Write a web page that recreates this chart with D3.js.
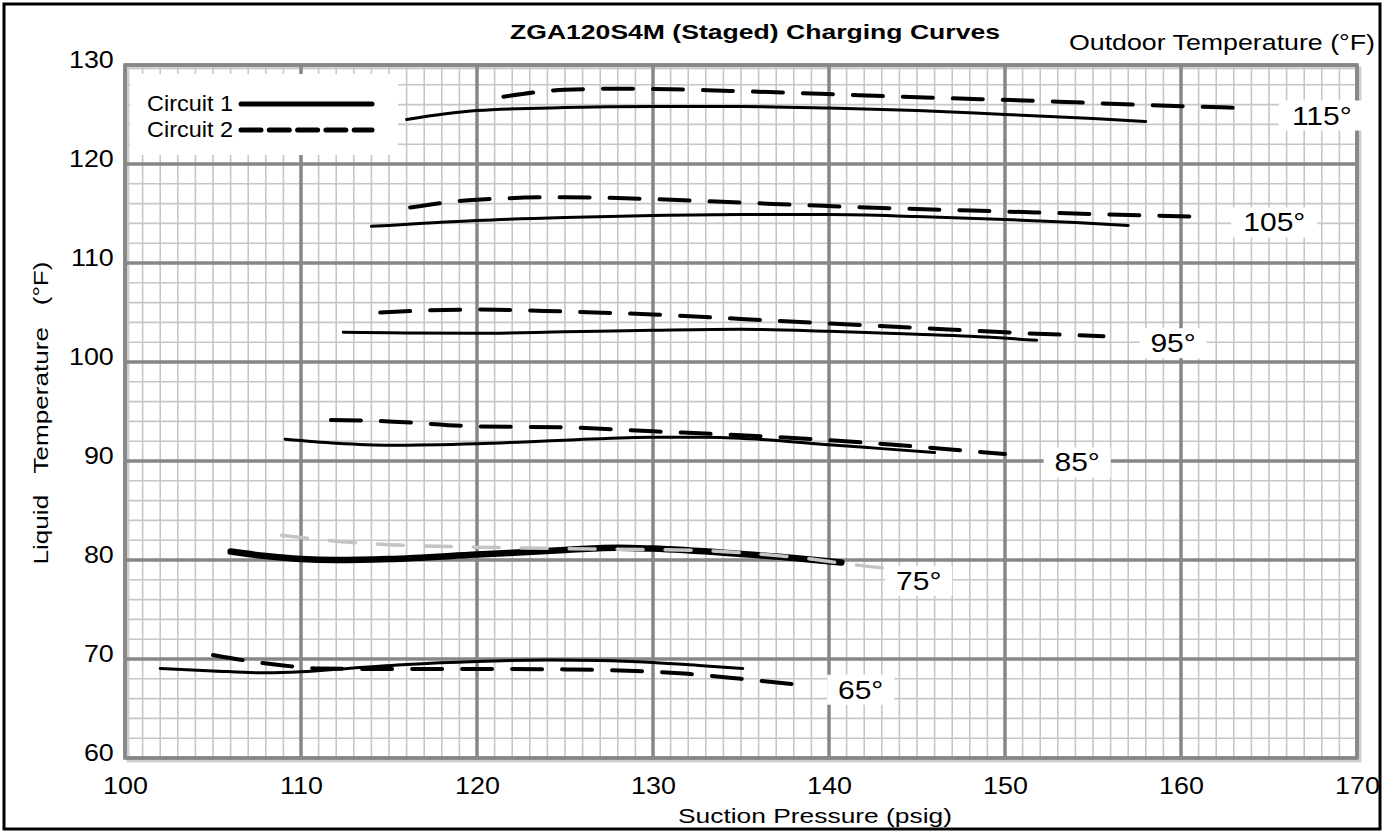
<!DOCTYPE html>
<html>
<head>
<meta charset="utf-8">
<script src="https://cdn.jsdelivr.net/npm/d3@7"></script>
<style>
  body { margin: 0; background: #fff; }
  text { font-family: "Liberation Sans", Arial, sans-serif; }
</style>
</head>
<body>
<div id="chart"></div>
<script>
// Dados das curvas (pressao de succao psig, temperatura do liquido F)
var outdoorTemps = ["115°", "105°", "95°", "85°", "75°", "65°"];

var c1_115 = [[116,124.5],[120,125.4],[125,125.7],[130,125.8],[135,125.8],[140,125.65],[145,125.4],[150,125.0],[155,124.6],[158,124.3]];
var c2_115 = [[121.5,126.8],[125,127.5],[128,127.6],[131,127.55],[134,127.4],[139.5,127.1],[144,126.8],[148.6,126.55],[153,126.3],[157.3,126.0],[163.7,125.65]];

var c1_105 = [[114,113.7],[120,114.3],[125,114.6],[130,114.8],[135,114.9],[140,114.9],[145,114.7],[150,114.4],[154,114.1],[157,113.8]];
var c2_105 = [[116.2,115.6],[120,116.4],[125,116.65],[130,116.45],[135,116.1],[140,115.75],[145,115.45],[150,115.2],[155,114.95],[160.5,114.7]];

var c1_95 = [[112.4,103.0],[115,102.95],[120,102.9],[125,103.05],[130,103.2],[135,103.3],[140,103.1],[145,102.8],[148,102.6],[151.8,102.2]];
var c2_95 = [[114.5,105.0],[117,105.2],[120,105.3],[125,105.1],[130,104.8],[135,104.35],[140,103.9],[145,103.45],[150,103.0],[155.6,102.6]];

var c1_85 = [[109.1,92.2],[112,91.8],[115,91.6],[120,91.75],[125,92.1],[130,92.4],[133,92.4],[136,92.2],[140,91.65],[143,91.25],[146,90.85]];
var c2_85 = [[111.7,94.15],[115,94.0],[120,93.5],[125,93.4],[130,93.0],[135,92.6],[140,92.1],[145,91.45],[150,90.7]];

var c1_75 = [[106,80.85],[108,80.4],[110,80.1],[112,80.0],[115,80.1],[120,80.55],[125,81.0],[128,81.25],[130,81.15],[135,80.6],[138,80.2],[140.7,79.75]];
var c2_75 = [[108.9,82.5],[112,81.9],[115,81.55],[120,81.3],[125,81.15],[130,81.05],[133,80.95],[136,80.6],[139,80.1],[141,79.6],[143.7,79.1]];

var c1_65 = [[102,69.05],[105,68.8],[108,68.6],[110,68.7],[113,69.1],[116,69.45],[120,69.75],[124,69.9],[127,69.85],[130,69.65],[133,69.3],[135.1,69.05]];
var c2_65 = [[105,70.4],[107,69.8],[109,69.35],[111,69.05],[114,69.0],[120,69.0],[125,68.95],[129,68.8],[132,68.5],[135,68.0],[138.5,67.35]];

// posicao dos rotulos de temperatura externa
var labelX = [168.0, 165.3, 159.55, 154.1, 145.1, 141.8];
var labelY = [124.9, 114.1, 101.9, 89.85, 77.9, 66.9];

var xTicks = [100, 110, 120, 130, 140, 150, 160, 170];
var yTicks = [60, 70, 80, 90, 100, 110, 120, 130];
var legendLabels = ["Circuit 1", "Circuit 2"];

// Definindo SVG
var svgWidth = 1393, svgHeight = 832;
var margin = { top: 65, right: 36, bottom: 74, left: 125 };
var width = 1357 - margin.left;
var height = 758 - margin.top;
var sx = 1.18; // texto do original esticado na horizontal

var svg = d3.select("#chart").append("svg")
    .attr("width", svgWidth)
    .attr("height", svgHeight);

function stretch(sel, len) {
    sel.attr("textLength", len).attr("lengthAdjust", "spacingAndGlyphs");
}

// moldura externa
svg.append("rect")
    .attr("x", 4).attr("y", 4)
    .attr("width", 1376).attr("height", 825)
    .attr("fill", "white")
    .attr("stroke", "black")
    .attr("stroke-width", 3);

var g = svg.append("g")
    .attr("transform", "translate(" + margin.left + "," + margin.top + ")");

var x = d3.scaleLinear().domain([100, 170]).range([0, width]);
var y = d3.scaleLinear().domain([60, 130]).range([height, 0]);

// sombra da area do grafico
g.append("rect")
    .attr("x", 3).attr("y", 3)
    .attr("width", width).attr("height", height)
    .attr("fill", "none")
    .attr("stroke", "#d0d0d0")
    .attr("stroke-width", 3);

// Grade menor
g.append("g").selectAll("line")
    .data(d3.range(101, 170, 1).filter(d => d % 10 != 0))
    .enter().append("line")
    .attr("x1", d => x(d)).attr("x2", d => x(d))
    .attr("y1", 0).attr("y2", height)
    .attr("stroke", "#c6c6c6").attr("stroke-width", 1.6);

g.append("g").selectAll("line")
    .data(d3.range(62, 130, 2).filter(d => d % 10 != 0))
    .enter().append("line")
    .attr("x1", 0).attr("x2", width)
    .attr("y1", d => y(d)).attr("y2", d => y(d))
    .attr("stroke", "#c6c6c6").attr("stroke-width", 1.6);

// Grade maior
g.append("g").selectAll("line")
    .data(xTicks)
    .enter().append("line")
    .attr("x1", d => x(d)).attr("x2", d => x(d))
    .attr("y1", 0).attr("y2", height)
    .attr("stroke", "#878787").attr("stroke-width", 3.5);

g.append("g").selectAll("line")
    .data(yTicks)
    .enter().append("line")
    .attr("x1", 0).attr("x2", width)
    .attr("y1", d => y(d)).attr("y2", d => y(d))
    .attr("stroke", "#878787").attr("stroke-width", 3.5);

g.append("rect")
    .attr("width", width).attr("height", height)
    .attr("fill", "none")
    .attr("stroke", "#878787")
    .attr("stroke-width", 3.5);

// Eixos (rotulos)
var xAxis = g.append("g")
    .attr("transform", "translate(0," + height + ")")
    .call(d3.axisBottom(x).tickValues(xTicks).tickSize(0).tickPadding(19));
var yAxis = g.append("g")
    .call(d3.axisLeft(y).tickValues(yTicks).tickSize(0).tickPadding(10));
[xAxis, yAxis].forEach(a => {
    a.select(".domain").remove();
    a.selectAll("text")
        .attr("font-family", "Liberation Sans, Arial, sans-serif")
        .attr("font-size", 24)
        .attr("fill", "black")
        .attr("transform", "scale(1.12,1)");
});
yAxis.selectAll("text").attr("dy", "0.1em");

// Curvas
var line = d3.line()
    .x(d => x(d[0]))
    .y(d => y(d[1]))
    .curve(d3.curveMonotoneX);

var solids = [c1_115, c1_105, c1_95, c1_85, c1_65];
var dashed = [c2_115, c2_105, c2_95, c2_85, c2_65];

g.append("g").selectAll("path")
    .data(solids)
    .enter().append("path")
    .attr("d", line)
    .attr("fill", "none")
    .attr("stroke", "black")
    .attr("stroke-width", 3)
    .attr("stroke-linecap", "round");

g.append("g").selectAll("path")
    .data(dashed)
    .enter().append("path")
    .attr("d", line)
    .attr("fill", "none")
    .attr("stroke", "black")
    .attr("stroke-width", 4)
    .attr("stroke-linecap", "round")
    .attr("stroke-dasharray", "30,20");

// curva de 75 graus: circuito 1 grosso, circuito 2 cinza
g.append("path")
    .attr("d", line(c1_75))
    .attr("fill", "none")
    .attr("stroke", "black")
    .attr("stroke-width", 6.5)
    .attr("stroke-linecap", "round");

g.append("path")
    .attr("d", line(c2_75))
    .attr("fill", "none")
    .attr("stroke", "#c4c4c4")
    .attr("stroke-width", 3.5)
    .attr("stroke-linecap", "round")
    .attr("stroke-dasharray", "26,22");

// Rotulos de temperatura externa
var lab = g.append("g").selectAll("g")
    .data(outdoorTemps)
    .enter().append("g")
    .attr("transform", (d, i) => "translate(" + x(labelX[i]) + "," + y(labelY[i]) + ")");

lab.append("rect")
    .attr("x", d => -d.length * 9.5 - 5)
    .attr("y", -15)
    .attr("width", d => d.length * 19 + 10)
    .attr("height", 30)
    .attr("fill", "white");

lab.append("text")
    .attr("text-anchor", "middle")
    .attr("dy", "0.36em")
    .attr("font-size", 25)
    .attr("transform", "scale(1.2,1)")
    .text(d => d);

// Legenda
var leg = g.append("g");
leg.append("rect")
    .attr("x", 5).attr("y", 9)
    .attr("width", 268).attr("height", 81)
    .attr("fill", "white");

leg.selectAll("text")
    .data(legendLabels)
    .enter().append("text")
    .attr("x", 22)
    .attr("y", (d, i) => 46 + i * 26)
    .attr("font-size", 22)
    .call(stretch, 86)
    .text(d => d);

leg.append("line")
    .attr("x1", 116).attr("x2", 247)
    .attr("y1", 39).attr("y2", 39)
    .attr("stroke", "black").attr("stroke-width", 5)
    .attr("stroke-linecap", "round");

leg.append("line")
    .attr("x1", 116).attr("x2", 247)
    .attr("y1", 65).attr("y2", 65)
    .attr("stroke", "black").attr("stroke-width", 5)
    .attr("stroke-linecap", "round")
    .attr("stroke-dasharray", "20,8.3");

// Titulos
svg.append("text")
    .attr("x", 755).attr("y", 39)
    .attr("text-anchor", "middle")
    .attr("font-size", 21)
    .attr("font-weight", "bold")
    .call(stretch, 490)
    .text("ZGA120S4M (Staged) Charging Curves");

svg.append("text")
    .attr("x", 1375).attr("y", 50)
    .attr("text-anchor", "end")
    .attr("font-size", 22)
    .call(stretch, 306)
    .text("Outdoor Temperature (°F)");

svg.append("text")
    .attr("x", 815).attr("y", 823)
    .attr("text-anchor", "middle")
    .attr("font-size", 21)
    .call(stretch, 274)
    .text("Suction Pressure (psig)");

svg.append("text")
    .attr("transform", "translate(48,413) rotate(-90)")
    .attr("text-anchor", "middle")
    .attr("font-size", 21)
    .style("white-space", "pre")
    .call(stretch, 303)
    .text("Liquid   Temperature   (°F)");
</script>
</body>
</html>
